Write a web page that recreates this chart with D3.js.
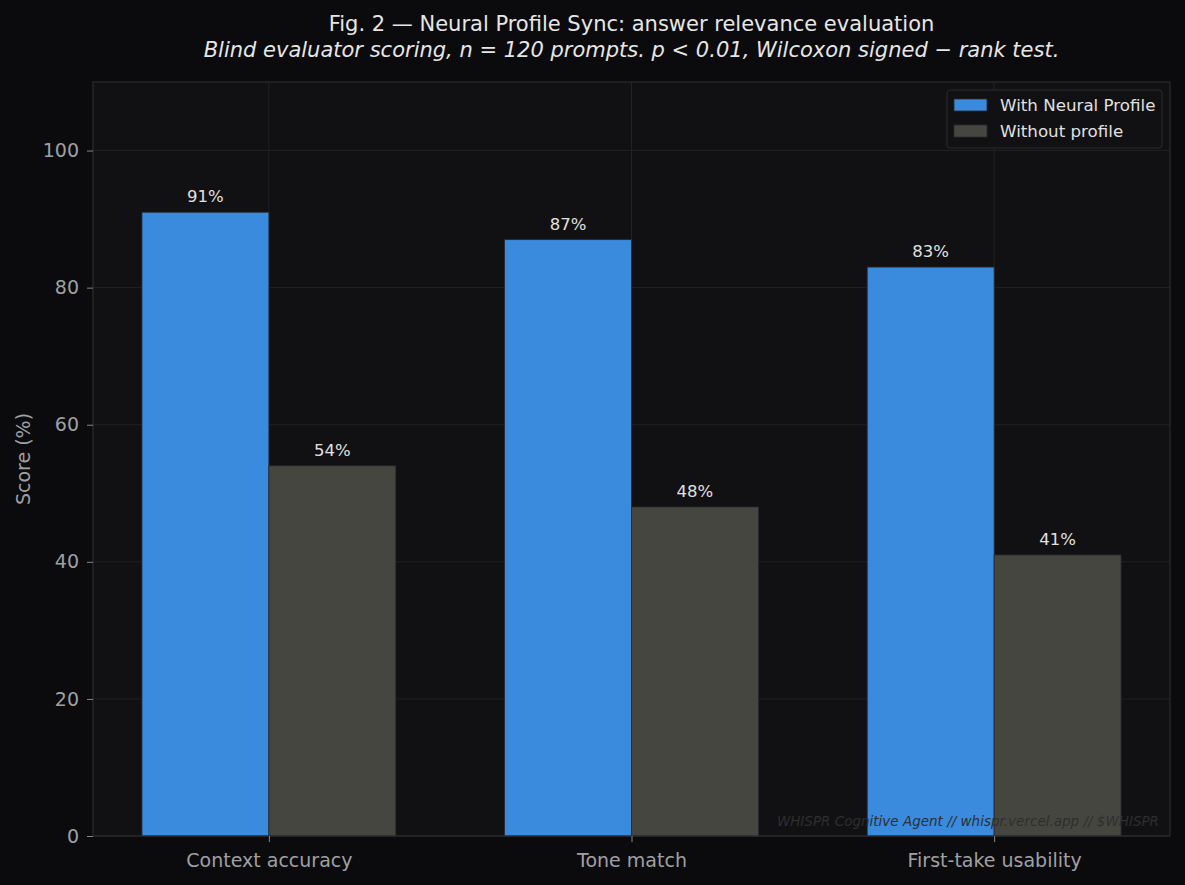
<!DOCTYPE html>
<html><head><meta charset="utf-8">
<script src="https://cdn.jsdelivr.net/npm/d3@7"></script>
<style>
html,body{margin:0;padding:0;background:#0b0b0d;}
svg{display:block;font-family:"DejaVu Sans",sans-serif;}
</style></head>
<body>
<svg id="chart" width="1185" height="885"></svg>
<script>
const categories = ["Context accuracy", "Tone match", "First-take usability"];
const withProfile = [91, 87, 83];
const withoutProfile = [54, 48, 41];
const seriesNames = ["With Neural Profile", "Without profile"];
const yTicks = [0, 20, 40, 60, 80, 100];

const W = 1185, H = 885;
const m = {left: 93, right: 1170, top: 82, bottom: 836};
const svg = d3.select("#chart");
svg.append("rect").attr("width", W).attr("height", H).attr("fill", "#0b0b0d");
svg.append("rect").attr("x", m.left).attr("y", m.top).attr("width", m.right - m.left).attr("height", m.bottom - m.top).attr("fill", "#111113");

const bw = 0.35;
const x = d3.scaleLinear().domain([-0.485, 2.485]).range([m.left, m.right]);
const y = d3.scaleLinear().domain([0, 110]).range([m.bottom, m.top]);

// grid
const g = svg.append("g");
g.selectAll("line.gy").data(yTicks).join("line")
  .attr("x1", m.left).attr("x2", m.right).attr("y1", d => y(d)).attr("y2", d => y(d))
  .attr("stroke", "#222224").attr("stroke-width", 1);
g.selectAll("line.gx").data(categories).join("line")
  .attr("x1", (d, i) => x(i)).attr("x2", (d, i) => x(i)).attr("y1", m.top).attr("y2", m.bottom)
  .attr("stroke", "#222224").attr("stroke-width", 1);

const series = [
  {name: seriesNames[0], vals: withProfile, color: "#3a8ade", off: -bw / 2},
  {name: seriesNames[1], vals: withoutProfile, color: "#464640", off: bw / 2}
];
series.forEach(s => {
  svg.append("g").selectAll("rect").data(s.vals).join("rect")
    .attr("x", (d, i) => x(i + s.off - bw / 2))
    .attr("width", x(bw) - x(0))
    .attr("y", d => y(d))
    .attr("height", d => y(0) - y(d))
    .attr("fill", s.color)
    .attr("stroke", "#2a2a2e").attr("stroke-width", 0.8);
  svg.append("g").selectAll("text").data(s.vals).join("text")
    .attr("x", (d, i) => x(i + s.off))
    .attr("y", d => y(d) - 10)
    .attr("text-anchor", "middle")
    .attr("fill", "#e0e0e0").attr("font-size", "16.5px")
    .text(d => d + "%");
});

// watermark
svg.append("text").attr("x", m.right - 11).attr("y", m.bottom - 10)
  .attr("text-anchor", "end").attr("font-style", "italic")
  .attr("fill", "#2e2e30").attr("font-size", "13.5px")
  .text("WHISPR Cognitive Agent // whispr.vercel.app // $WHISPR");

// spines
svg.append("rect").attr("x", m.left).attr("y", m.top).attr("width", m.right - m.left).attr("height", m.bottom - m.top)
  .attr("fill", "none").attr("stroke", "#2c2c2e").attr("stroke-width", 1.2);

// axes
const yAxis = d3.axisLeft(y).tickValues(yTicks).tickSize(6).tickPadding(8);
const ya = svg.append("g").attr("transform", `translate(${m.left},0)`).call(yAxis);
ya.select(".domain").remove();
ya.selectAll("line").attr("stroke", "#888");
ya.selectAll("text").attr("fill", "#a0a0a4").attr("font-size", "19px").attr("font-family", "DejaVu Sans");

const xAxis = d3.axisBottom(x).tickValues([0, 1, 2]).tickFormat(i => categories[i]).tickSize(6).tickPadding(12);
const xa = svg.append("g").attr("transform", `translate(0,${m.bottom})`).call(xAxis);
xa.select(".domain").remove();
xa.selectAll("line").attr("stroke", "#888");
xa.selectAll("text").attr("fill", "#a0a0a4").attr("font-size", "19px").attr("font-family", "DejaVu Sans");

// y label
svg.append("text").attr("transform", `translate(30,${(m.top + m.bottom) / 2}) rotate(-90)`)
  .attr("text-anchor", "middle").attr("fill", "#a0a0a4").attr("font-size", "19px").text("Score (%)");

// title
const cx = (m.left + m.right) / 2;
svg.append("text").attr("x", cx).attr("y", 31).attr("text-anchor", "middle")
  .attr("fill", "#e6e6e6").attr("font-size", "21px").text("Fig. 2 — Neural Profile Sync: answer relevance evaluation");
svg.append("text").attr("x", cx).attr("y", 57).attr("text-anchor", "middle")
  .attr("fill", "#e6e6e6").attr("font-size", "21px").attr("font-style", "italic")
  .text("Blind evaluator scoring, n = 120 prompts. p < 0.01, Wilcoxon signed − rank test.");

// legend
const lg = svg.append("g").attr("transform", "translate(947,90)");
lg.append("rect").attr("width", 215).attr("height", 58).attr("rx", 3)
  .attr("fill", "#111113").attr("stroke", "#2c2c2e").attr("stroke-width", 1);
series.forEach((s, i) => {
  lg.append("rect").attr("x", 7).attr("y", 9 + i * 26).attr("width", 33).attr("height", 12)
    .attr("fill", s.color).attr("stroke", "#2a2a2e").attr("stroke-width", 0.8);
  lg.append("text").attr("x", 53).attr("y", 21 + i * 26).attr("fill", "#e0e0e0")
    .attr("font-size", "16.7px").text(s.name);
});
</script>
</body></html>
